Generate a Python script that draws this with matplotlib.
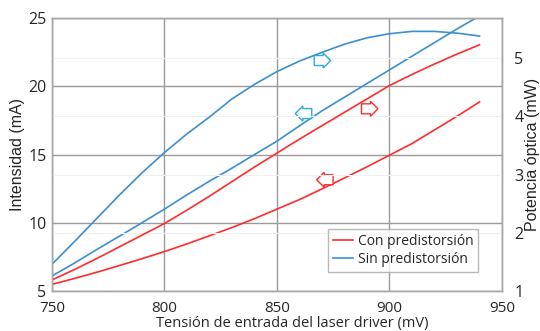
import numpy as np
import matplotlib
matplotlib.use('Agg')
import matplotlib.pyplot as plt
from matplotlib.lines import Line2D

# tension de entrada (mV)
tension = [750, 760, 770, 780, 790, 800, 810, 820, 830, 840,
           850, 860, 870, 880, 890, 900, 910, 920, 930, 940]

# intensidad (mA) - eje izquierdo
int_con = [5.49, 5.92, 6.38, 6.87, 7.37, 7.89, 8.45, 9.05, 9.65, 10.30,
           11.00, 11.70, 12.48, 13.28, 14.10, 14.95, 15.80, 16.80, 17.80, 18.85]
int_sin = [6.10, 7.05, 8.05, 9.02, 10.00, 11.00, 12.05, 13.05, 14.00, 15.00,
           15.98, 17.10, 18.20, 19.20, 20.20, 21.20, 22.20, 23.20, 24.20, 25.15]

# potencia optica (mW) - eje derecho
pot_con = [1.19, 1.37, 1.56, 1.76, 1.96, 2.16, 2.39, 2.63, 2.88, 3.13,
           3.37, 3.61, 3.84, 4.07, 4.30, 4.53, 4.72, 4.90, 5.07, 5.23]
pot_sin = [1.46, 1.85, 2.25, 2.65, 3.03, 3.38, 3.70, 3.99, 4.30, 4.55,
           4.77, 4.95, 5.10, 5.24, 5.35, 5.42, 5.46, 5.46, 5.43, 5.38]

xticks = [750, 800, 850, 900, 950]
yticks_izq = [5, 10, 15, 20, 25]
yticks_der = [1, 2, 3, 4, 5]

rojo = '#ff2b2b'
azul = '#3a8fd0'
azul_flecha = '#29abe2'
texto = '#262626'

plt.rcParams['font.family'] = ['Open Sans', 'DejaVu Sans']

fig = plt.figure(figsize=(5.4, 3.31), dpi=100)
ax1 = fig.add_axes([0.0963, 0.1208, 0.8333, 0.8248])
ax2 = ax1.twinx()

ax1.plot(tension, int_con, color=rojo, lw=1.2)
ax1.plot(tension, int_sin, color=azul, lw=1.2)
ax2.plot(tension, pot_con, color=rojo, lw=1.2)
ax2.plot(tension, pot_sin, color=azul, lw=1.2)

ax1.set_xlim(750, 950)
ax1.set_ylim(5, 25)
ax2.set_ylim(1, 5.69)
ax1.set_xticks(xticks)
ax1.set_yticks(yticks_izq)
ax2.set_yticks(yticks_der)

ax1.grid(True, color='#9a9a9a', lw=1.0)
ax2.grid(True, axis='y', color='#f0f0f0', lw=0.8)
ax1.set_axisbelow(True)
ax2.set_axisbelow(True)
ax2.patch.set_visible(False)

for ax in (ax1, ax2):
    for s in ax.spines.values():
        s.set_color('#a8a8a8')
        s.set_linewidth(1.0)
    ax.tick_params(length=0, labelsize=11.5, colors=texto)
ax1.tick_params(axis='x', pad=7, labelsize=11)
ax1.tick_params(axis='y', pad=4)
ax2.tick_params(axis='y', pad=9)

ax1.set_xlabel('Tensión de entrada del laser driver (mV)', fontsize=10.5, color=texto)
ax1.xaxis.set_label_coords(0.535, -0.093)
ax1.set_ylabel('Intensidad (mA)', fontsize=11.5, color=texto, family=['Liberation Sans', 'DejaVu Sans'], labelpad=2)
ax2.set_ylabel('Potencia óptica (mW)', fontsize=11.5, color=texto, family=['Liberation Sans', 'DejaVu Sans'], labelpad=1)

# flechas que indican el eje de cada curva
def flecha(ax, x, y, estilo, color):
    ax.text(x, y, '      ', fontsize=4, ha='center', va='center',
            bbox=dict(boxstyle=estilo + ',pad=0.45', fc='white', ec=color, lw=1.0))

flecha(ax2, 869.5, 4.96, 'rarrow', azul_flecha)
flecha(ax1, 862.5, 18.0, 'larrow', azul_flecha)
flecha(ax2, 890.5, 4.13, 'rarrow', rojo)
flecha(ax1, 872.0, 13.15, 'larrow', rojo)

handles = [Line2D([], [], color=rojo, lw=1.2), Line2D([], [], color=azul, lw=1.2)]
leg = ax2.legend(handles, ['Con predistorsión', 'Sin predistorsión'],
                 loc='lower right', bbox_to_anchor=(0.947, 0.07), fontsize=10,
                 frameon=True, fancybox=False, handlelength=1.5, handletextpad=0.3,
                 borderpad=0.35, labelspacing=0.2, borderaxespad=0)
leg.get_frame().set_edgecolor('#a8a8a8')
leg.get_frame().set_linewidth(1.0)
for t in leg.get_texts():
    t.set_color(texto)

fig.savefig('out.png', dpi=100)
